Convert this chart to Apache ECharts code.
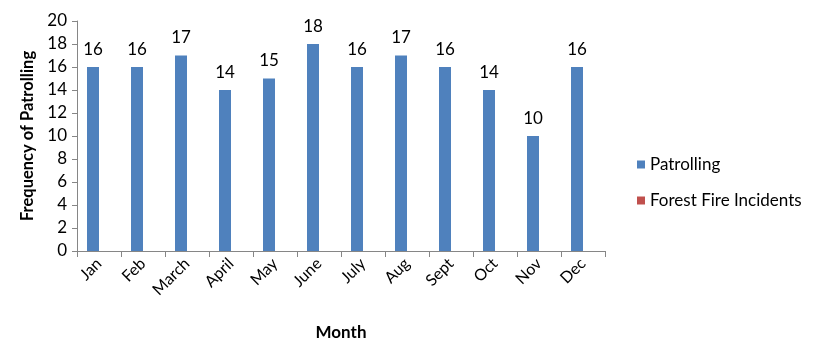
<!DOCTYPE html>
<html><head><meta charset="utf-8">
<script src="https://cdn.jsdelivr.net/npm/echarts@6/dist/echarts.min.js"></script>
<style>html,body{margin:0;padding:0;background:#fff}#c{width:820px;height:364px}</style>
</head><body><div id="c"></div>
<script>
var months = ['Jan','Feb','March','April','May','June','July','Aug','Sept','Oct','Nov','Dec'];
var patrolling = [16,16,17,14,15,18,16,17,16,14,10,16];
var fireIncidents = [0,0,0,0,0,0,0,0,0,0,0,0];
var yTicks = {min:0, max:20, interval:2};
var font = 'Lato, "Noto Sans", sans-serif';
var chart = echarts.init(document.getElementById('c'));
chart.setOption({
  animation:false,
  textStyle:{fontFamily:font},
  grid:{left:77, top:21, width:528, height:230, containLabel:false},
  legend:{
    orient:'vertical', left:632, top:151, itemWidth:8, itemHeight:8, itemGap:19,
    icon:'rect',
    textStyle:{fontSize:17, color:'#000', fontFamily:font},
    data:['Patrolling','Forest Fire Incidents']
  },
  xAxis:{
    type:'category', data:months,
    name:'Month', nameLocation:'middle', nameGap:73,
    nameTextStyle:{fontSize:17, fontWeight:'bold', color:'#000', fontFamily:font},
    axisLine:{lineStyle:{color:'#868686'}},
    axisTick:{show:true, alignWithLabel:false, length:6, lineStyle:{color:'#868686'}},
    axisLabel:{rotate:45, fontSize:16, color:'#000', margin:10, interval:0}
  },
  yAxis:{
    type:'value', min:yTicks.min, max:yTicks.max, interval:yTicks.interval,
    name:'Frequency of Patrolling', nameLocation:'middle', nameGap:40, nameRotate:90,
    nameTextStyle:{fontSize:16.5, fontWeight:'bold', color:'#000', fontFamily:font},
    axisLine:{show:true, lineStyle:{color:'#868686'}},
    axisTick:{show:true, length:5, lineStyle:{color:'#868686'}},
    splitLine:{show:false},
    axisLabel:{fontSize:17, color:'#000', margin:10}
  },
  series:[
    {name:'Patrolling', type:'bar', data:patrolling, barWidth:12, barGap:'0%',
     itemStyle:{color:'#4F81BD'},
     label:{show:true, position:'top', distance:9, fontSize:17, color:'#000', fontFamily:font}},
    {name:'Forest Fire Incidents', type:'bar', data:fireIncidents, barWidth:12,
     itemStyle:{color:'#C0504D'}}
  ]
});
</script></body></html>
